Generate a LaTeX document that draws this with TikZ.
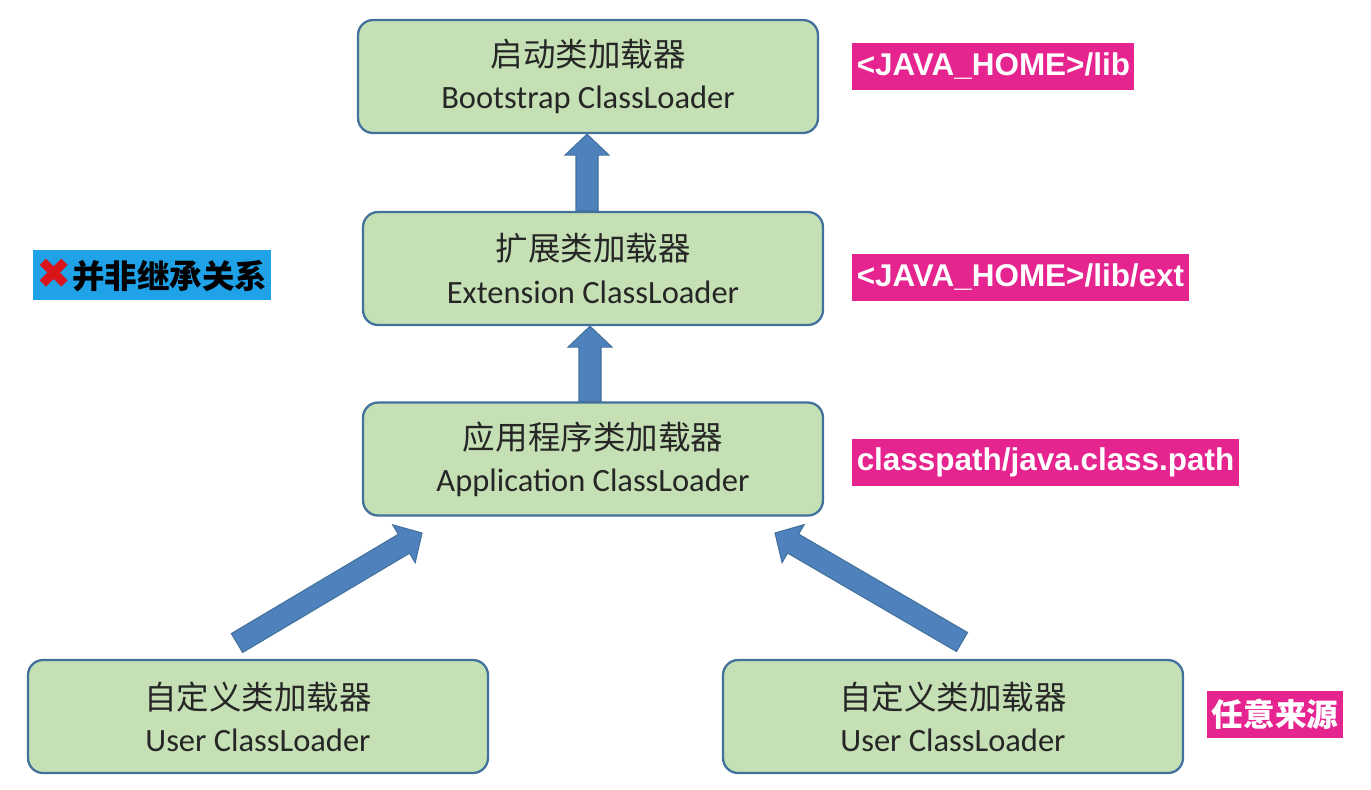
\documentclass[tikz,border=0pt]{standalone}
\usepackage{fontspec}
\setmainfont{Carlito}
\newfontfamily\cjkfont{Noto Sans CJK SC}
\newfontfamily\pathfont{Liberation Sans}
\newfontfamily\symbolfont{DejaVu Sans}
\usetikzlibrary{calc}
\definecolor{loaderGreen}{HTML}{C5E0B4}
\definecolor{loaderEdge}{HTML}{41719C}
\definecolor{arrowBlue}{HTML}{4F81BD}
\definecolor{pathPink}{HTML}{E6248F}
\definecolor{noteBlue}{HTML}{1FA2E8}
\definecolor{crossRed}{HTML}{D9141B}

% fat block arrow from #1 to #2 (named coordinates)
\newcommand{\blockarrow}[2]{%
  \coordinate (ba-head) at ($(#2)!0.42cm!(#1)$);
  \filldraw[blockarrow]
    ($(#1)!0.22cm!90:(#2)$) -- ($(ba-head)!0.22cm!90:(#2)$) --
    ($(ba-head)!0.44cm!90:(#2)$) -- (#2) --
    ($(ba-head)!0.44cm!-90:(#2)$) -- ($(ba-head)!0.22cm!-90:(#2)$) --
    ($(#1)!0.22cm!-90:(#2)$) -- cycle;
}

\begin{document}
\begin{tikzpicture}[
  x=0.02cm, y=-0.02cm,
  loaderbox/.style={
    draw=loaderEdge,
    fill=loaderGreen,
    rounded corners=0.3cm,
    line width=1.3pt,
    minimum width=9.2cm,
    minimum height=2.26cm,
    align=center,
    text=black!85,
    font=\fontsize{18.5}{24}\selectfont
  },
  pathtag/.style={
    fill=pathPink,
    text=white,
    inner xsep=2.5pt,
    minimum height=0.94cm,
    anchor=west,
    font=\pathfont\bfseries\fontsize{17.9}{20}\selectfont
  },
  notetag/.style={
    fill=noteBlue,
    text=black,
    inner xsep=2pt,
    minimum height=1cm,
    anchor=west,
    font=\cjkfont\bfseries\fontsize{18.5}{20}\selectfont
  },
  blockarrow/.style={
    fill=arrowBlue,
    draw=loaderEdge,
    line width=0.6pt
  }
]
  \useasboundingbox (0,0) rectangle (1371,789);

  % ----------------------------------------------------
  % THE LOADER CHAIN
  % ----------------------------------------------------
  \node[loaderbox] (boot) at (588, 76.5) {
    {\cjkfont 启动类加载器}\\
    Bootstrap ClassLoader
  };

  \node[loaderbox] (ext) at (593, 268.5) {
    {\cjkfont 扩展类加载器}\\
    Extension ClassLoader
  };

  \node[loaderbox] (app) at (593, 459) {
    {\cjkfont 应用程序类加载器}\\
    Application ClassLoader
  };

  \node[loaderbox] (userL) at (258, 716.5) {
    {\cjkfont 自定义类加载器}\\
    User ClassLoader
  };

  \node[loaderbox] (userR) at (953, 716.5) {
    {\cjkfont 自定义类加载器}\\
    User ClassLoader
  };

  % ----------------------------------------------------
  % WHERE EACH LOADER READS FROM
  % ----------------------------------------------------
  \node[pathtag] (tag_boot) at (852, 66) {<JAVA\_HOME>/lib};
  \node[pathtag] (tag_ext) at (852, 277) {<JAVA\_HOME>/lib/ext};
  \node[pathtag] (tag_app) at (852, 462) {classpath/java.class.path};
  \node[pathtag, font=\cjkfont\bfseries\fontsize{18}{20}\selectfont] (tag_user) at (1207, 714) {任意来源};

  \node[notetag] (note) at (33, 275) {{\symbolfont\fontsize{24}{20}\selectfont\color{crossRed}✖}并非继承关系};

  % Parent delegation arrows (child points up to parent)
  \coordinate (ext_out) at ([xshift=-0.12cm]ext.north);
  \coordinate (boot_in) at (ext_out |- boot.south);
  \coordinate (app_out) at ([xshift=-0.06cm]app.north);
  \coordinate (ext_in) at (app_out |- ext.south);
  \coordinate (userL_out) at (237, 643);
  \coordinate (userR_out) at (962, 642);
  \coordinate (app_inL) at (422, 533);
  \coordinate (app_inR) at (775, 533);

  \blockarrow{ext_out}{boot_in}
  \blockarrow{app_out}{ext_in}
  \blockarrow{userL_out}{app_inL}
  \blockarrow{userR_out}{app_inR}

\end{tikzpicture}
\end{document}
